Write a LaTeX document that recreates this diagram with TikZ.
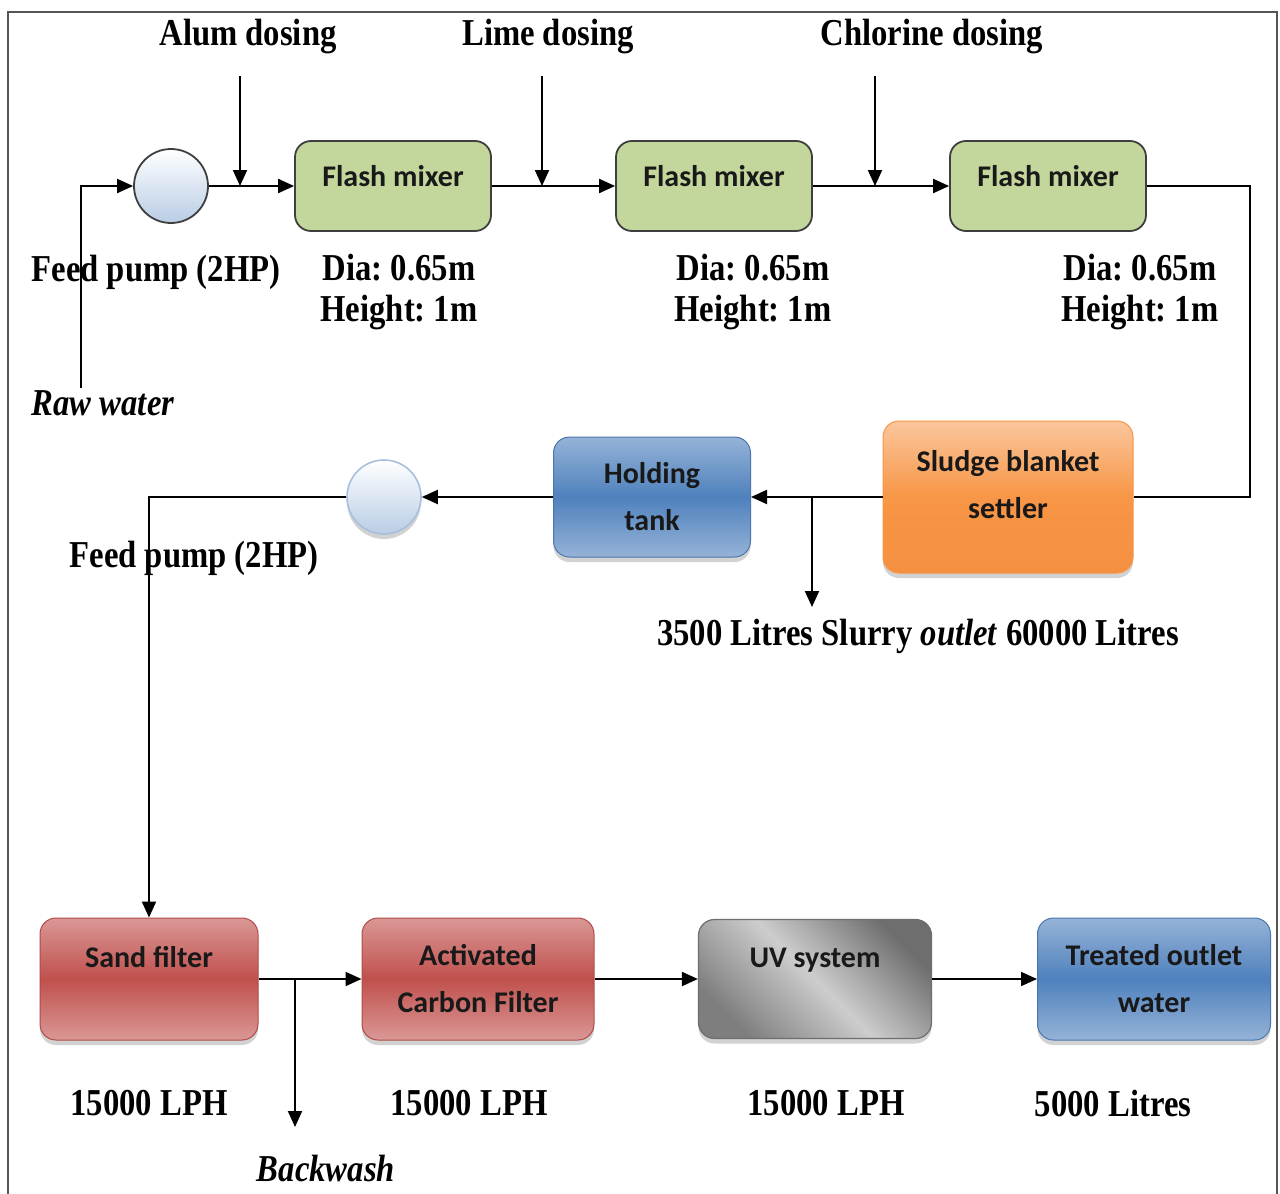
\documentclass[tikz,border=0pt]{standalone}
\usepackage{fontspec}
\usetikzlibrary{arrows.meta,shadows}
\newfontfamily\lblfont[FakeStretch=0.86]{Liberation Serif}
\newfontfamily\boxfont{Carlito}
\definecolor{mixgreen}{HTML}{C3D69B}
\definecolor{mixedge}{HTML}{3F3F3F}
\definecolor{orlight}{HTML}{FBC69C}
\definecolor{ormid}{HTML}{F79646}
\definecolor{orbot}{HTML}{F59040}
\definecolor{bllight}{HTML}{95B3D7}
\definecolor{blmid}{HTML}{4F81BD}
\definecolor{bledge}{HTML}{4A76AD}
\definecolor{rdlight}{HTML}{DA9896}
\definecolor{rdmid}{HTML}{C0504D}
\definecolor{rdedge}{HTML}{B04A47}
\definecolor{uvdark}{HTML}{6E6E6E}
\definecolor{uvlight}{HTML}{CDCDCD}
\definecolor{uvdark2}{HTML}{7E7E7E}
\definecolor{pumpblue}{HTML}{B9CDE5}
\definecolor{pumpedge}{HTML}{A7BFDE}
\definecolor{frameg}{HTML}{555555}
\frenchspacing
\begin{document}
\begin{tikzpicture}[x=0.5pt,y=-0.5pt,
  lbl/.style={font=\lblfont\bfseries\fontsize{19}{20.5}\selectfont, inner sep=0pt, align=center},
  lbli/.style={font=\lblfont\bfseries\itshape\fontsize{19}{20.5}\selectfont, inner sep=0pt},
  pipe/.style={line width=1pt, draw=black},
  flow/.style={pipe, -{Triangle[length=8pt,width=7pt]}},
  boxbase/.style={rounded corners=8pt, inner sep=0pt, align=center,
    font=\boxfont\bfseries\fontsize{15}{23.5}\selectfont, text=black!90},
  boxshadow/.style={drop shadow={shadow xshift=0pt, shadow yshift=-2.5pt, opacity=0.35}},
  flash/.style={boxbase, draw=mixedge, line width=0.9pt, fill=mixgreen,
    minimum width=98pt, minimum height=45pt, text height=8pt, text depth=8pt},
  bluebox/.style={boxbase, boxshadow, top color=bllight, bottom color=bllight, middle color=blmid,
    draw=bledge, line width=0.5pt, minimum height=60pt},
  redbox/.style={boxbase, boxshadow, top color=rdlight, bottom color=rdlight, middle color=rdmid,
    draw=rdedge, line width=0.5pt, minimum height=61pt},
  orbox/.style={boxbase, boxshadow, top color=orlight, bottom color=orbot, middle color=ormid,
    draw=ormid, line width=0.5pt, minimum width=125pt, minimum height=76pt},
  uvbox/.style={boxbase, boxshadow, top color=uvdark, bottom color=uvdark2, middle color=uvlight,
    shading angle=-45, draw=uvdark, line width=0.6pt, minimum width=116.5pt, minimum height=59.5pt},
  pump/.style={circle, minimum size=37pt, inner sep=0pt, top color=white, bottom color=pumpblue}
]
\fill[white] (0,0) rectangle (1280,1194);
\useasboundingbox (0,0) rectangle (1280,1194);
\draw[frameg, line width=0.7pt] (8,1194) -- (8,12) -- (1277,12) -- (1277,1194);

% top labels
\node[lbl] (alum) at (248,37) {Alum dosing};
\node[lbl] (lime) at (548,37) {Lime dosing};
\node[lbl] (chlor) at (932,37) {Chlorine dosing};

% top row
\node[pump, draw=mixedge, line width=0.9pt] (p1) at (171,186) {};
\node[flash] (fm1) at (393,186) {Flash mixer};
\node[flash] (fm2) at (714,186) {Flash mixer};
\node[flash] (fm3) at (1048,186) {Flash mixer};

\node[lbl] (fp1) at (156,272) {Feed pump (2HP)};
\node[lbl] (d1) at (399,292) {Dia: 0.65m\\Height: 1m};
\node[lbl] (d2) at (753,292) {Dia: 0.65m\\Height: 1m};
\node[lbl] (d3) at (1140,292) {Dia: 0.65m\\Height: 1m};
\node[lbli] (raw) at (103,403) {Raw water};

\coordinate (rawtop) at (81,388);
\draw[flow] (rawtop) |- (p1.west);
\draw[flow] (p1.east) -- (fm1.west);
\draw[flow] (fm1.east) -- (fm2.west);
\draw[flow] (fm2.east) -- (fm3.west);

\coordinate (alumtop) at (240,76);  \coordinate (alumj) at (240,186);
\coordinate (limetop) at (542,76);  \coordinate (limej) at (542,186);
\coordinate (chlortop) at (875,76); \coordinate (chlorj) at (875,186);
\draw[flow] (alumtop) -- (alumj);
\draw[flow] (limetop) -- (limej);
\draw[flow] (chlortop) -- (chlorj);

% middle row
\node[orbox, label={[font=\boxfont\bfseries\fontsize{15}{23.5}\selectfont, text=black!90, align=center, yshift=6pt]center:Sludge blanket\\settler}] (settler) at (1008,497) {};
\node[bluebox, minimum width=98.5pt] (hold) at (652,497) {Holding\\tank};
\node[pump, draw=pumpedge, line width=0.8pt, boxshadow] (p2) at (384,497) {};

\coordinate (corner) at (1250,186);
\draw[pipe] (fm3.east) -- (corner) |- (settler.east);
\draw[flow] (settler.west) -- (hold.east);
\coordinate (sj) at (812,497); \coordinate (sb) at (812,607);
\draw[flow] (sj) -- (sb);
\node[lbl] (slurry) at (918,636) {3500 Litres Slurry \textit{outlet} 60000 Litres};
\draw[flow] (hold.west) -- (p2.east);
\node[lbl] (fp2) at (194,558) {Feed pump (2HP)};

% bottom row
\node[redbox, minimum width=109pt, text height=8pt, text depth=20pt] (sand) at (149,979) {Sand filter};
\node[redbox, minimum width=116pt] (acf) at (478,979) {Activated\\Carbon Filter};
\node[uvbox, text height=8pt, text depth=20pt] (uv) at (815,979) {UV system};
\node[bluebox, minimum width=116.5pt, minimum height=61pt] (out) at (1154,979) {Treated outlet\\water};

\draw[flow] (p2.west) -| (sand.north);
\draw[flow] (sand.east) -- (acf.west);
\draw[flow] (acf.east) -- (uv.west);
\draw[flow] (uv.east) -- (out.west);
\coordinate (bj) at (295,979); \coordinate (bb) at (295,1127);
\draw[flow] (bj) -- (bb);
\node[lbli] (back) at (326,1168) {Backwash};

\node[lbl] (q1) at (149,1103) {15000 LPH};
\node[lbl] (q2) at (469,1103) {15000 LPH};
\node[lbl] (q3) at (826,1103) {15000 LPH};
\node[lbl] (q4) at (1113,1103) {5000 Litres};
\end{tikzpicture}
\end{document}
